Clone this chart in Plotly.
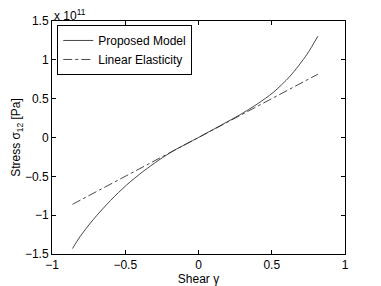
import plotly.graph_objects as go

shear_model = [-0.86, -0.81, -0.72, -0.60, -0.49, -0.38, -0.27, -0.17, 0.0, 0.17, 0.28, 0.40, 0.51, 0.625, 0.74, 0.815]
stress_model = [-1.43, -1.28, -1.06, -0.81, -0.61, -0.44, -0.29, -0.17, 0.0, 0.175, 0.29, 0.43, 0.58, 0.79, 1.07, 1.305]
shear_linear = [-0.86, 0.815]
stress_linear = [-0.86, 0.815]
x_ticks = [-1, -0.5, 0, 0.5, 1]
x_labels = ["−1", "−0.5", "0", "0.5", "1"]
y_ticks = [-1.5, -1, -0.5, 0, 0.5, 1, 1.5]
y_labels = ["−1.5", "−1", "−0.5", "0", "0.5", "1", "1.5"]

FONT = "Liberation Sans, Arial, sans-serif"

fig = go.Figure()
fig.add_trace(go.Scatter(x=shear_model, y=stress_model, mode="lines", name="Proposed Model",
                         line=dict(color="#333", width=0.9, shape="spline", smoothing=0.8)))
fig.add_trace(go.Scatter(x=shear_linear, y=stress_linear, mode="lines", name="Linear Elasticity",
                         line=dict(color="#333", width=0.9, dash="dashdot")))

axis_common = dict(showline=True, linecolor="black", linewidth=1, mirror="ticks",
                   ticks="inside", ticklen=4, tickcolor="black", showgrid=False, zeroline=False,
                   automargin=False,
                   tickfont=dict(family=FONT, size=12, color="black"))

fig.update_layout(
    width=381, height=286,
    margin=dict(l=52, r=36, t=21, b=32),
    paper_bgcolor="white", plot_bgcolor="white",
    font=dict(family=FONT, size=12, color="black"),
    showlegend=True,
    legend=dict(x=0.018, y=0.983, xanchor="left", yanchor="top",
                bgcolor="white", bordercolor="black", borderwidth=1,
                font=dict(family=FONT, size=12, color="black"),
                tracegroupgap=0, itemwidth=30),
    xaxis=dict(range=[-1, 1], tickvals=x_ticks, ticktext=x_labels,
               title=dict(text="Shear γ", font=dict(family=FONT, size=12), standoff=0), **axis_common),
    yaxis=dict(range=[-1.5, 1.5], tickvals=y_ticks, ticktext=y_labels,
               title=dict(text="Stress σ<sub>12</sub> [Pa]", font=dict(family=FONT, size=12), standoff=1),
               **axis_common),
)
fig.add_annotation(text="x 10<sup>11</sup>", xref="paper", yref="paper", x=0, y=1.0,
                   xanchor="left", yanchor="bottom", showarrow=False,
                   font=dict(family=FONT, size=12, color="black"), yshift=-4)

fig.write_html("out.html", config={"displayModeBar": False},
               post_script="document.body.style.margin='0';document.body.style.overflow='hidden';")
